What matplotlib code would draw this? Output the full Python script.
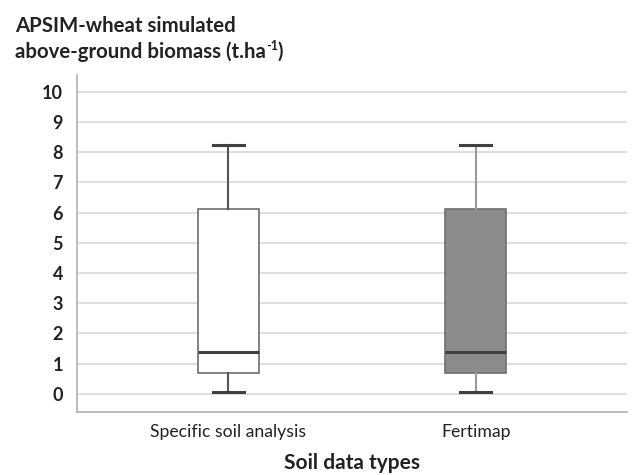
import matplotlib
matplotlib.use("Agg")
from matplotlib import pyplot as plt

categories = ["Specific soil analysis", "Fertimap"]
whisker_low = [0.06, 0.06]
q1 = [0.68, 0.68]
median = [1.40, 1.40]
q3 = [6.11, 6.11]
whisker_high = [8.24, 8.24]
box_colors = ["white", "#8c8c8c"]
whisker_colors = ["#555555", "#999999"]
y_ticks = list(range(0, 11))

plt.rcParams["font.family"] = ["Lato", "DejaVu Sans"]

fig = plt.figure(figsize=(6.34, 4.75), dpi=100)
ax = fig.add_axes([77 / 634, 1 - 412 / 475, 550 / 634, (412 - 75) / 475])

for i in range(len(categories)):
    stats = [{"whislo": whisker_low[i], "q1": q1[i], "med": median[i],
              "q3": q3[i], "whishi": whisker_high[i], "fliers": []}]
    ax.bxp(stats, positions=[i + 1], widths=0.246, showfliers=False,
           patch_artist=True,
           boxprops=dict(facecolor=box_colors[i], edgecolor="#6e6e6e", linewidth=1.2),
           medianprops=dict(color="#404040", linewidth=2.2),
           whiskerprops=dict(color=whisker_colors[i], linewidth=1.5),
           capprops=dict(color="#404040", linewidth=2.2),
           capwidths=0.125)

ax.set_xlim(0.39, 2.61)
ax.set_ylim(-0.6, 10.55)
ax.set_yticks(y_ticks)
ax.set_yticklabels([str(t) for t in y_ticks], fontsize=13, fontweight="bold", color="#222222")
ax.set_xticks([1, 2])
ax.set_xticklabels(categories, fontsize=12.7, color="#222222")
ax.tick_params(axis="both", length=0)
ax.tick_params(axis="y", pad=10)
ax.tick_params(axis="x", pad=9)

ax.yaxis.grid(True, color="#d9d9d9", linewidth=1.2)
ax.set_axisbelow(True)
for s in ["top", "right"]:
    ax.spines[s].set_visible(False)
ax.spines["left"].set_color("#b0b0b0")
ax.spines["bottom"].set_color("#b0b0b0")
ax.spines["left"].set_linewidth(1.2)
ax.spines["bottom"].set_linewidth(1.2)

ax.set_xlabel("Soil data types", fontsize=15, fontweight="bold", color="#222222", labelpad=9)

fig.text(15 / 634, 1 - 26 / 475, "APSIM-wheat simulated", fontsize=14.7,
         fontweight="bold", color="#222222", va="center")
t2 = fig.text(15 / 634, 1 - 52 / 475, "above-ground biomass (t.ha", fontsize=14.7,
              fontweight="bold", color="#222222", va="center")
fig.canvas.draw()
bb = t2.get_window_extent()
t3 = fig.text(bb.x1 / 634, 1 - 46 / 475, "-1", fontsize=9,
              fontweight="bold", color="#222222", va="center")
bb3 = t3.get_window_extent(fig.canvas.get_renderer())
fig.text(bb3.x1 / 634, 1 - 52 / 475, ")", fontsize=14.7,
         fontweight="bold", color="#222222", va="center")

fig.savefig("out.png", dpi=100)
